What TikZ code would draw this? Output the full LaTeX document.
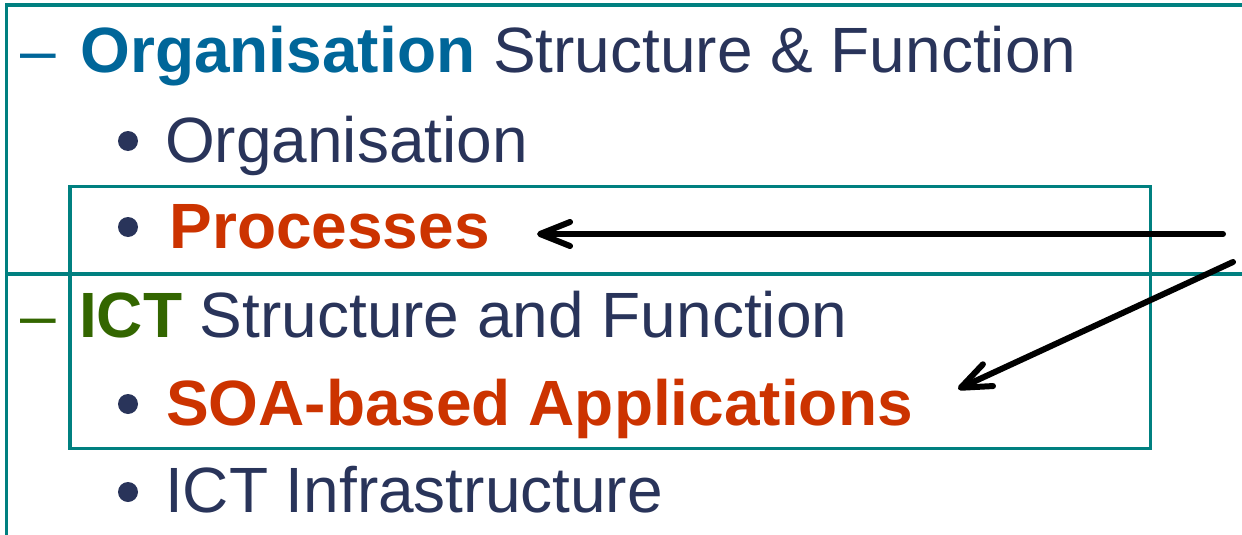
\documentclass[tikz,border=0pt]{standalone}
\usepackage{fontspec}
\setmainfont{Liberation Sans}
\usetikzlibrary{arrows.meta}
\definecolor{navy}{HTML}{29345A}
\definecolor{orgblue}{HTML}{006699}
\definecolor{hotred}{HTML}{CC3300}
\definecolor{ictgreen}{HTML}{336600}
\definecolor{tealline}{HTML}{008080}
\tikzset{
  txt/.style={anchor=base west, inner sep=0pt, outer sep=0pt, text=navy, font=\fontsize{64}{70}\selectfont},
  frame/.style={draw=tealline, line width=3.8pt},
  bulletdot/.style={circle, fill=navy, inner sep=0pt, minimum size=20pt},
  pointer/.style={draw=black, line width=6pt, line cap=round, -{Straight Barb[length=30pt,width=24pt,line width=6pt,round]}}
}
\begin{document}
\begin{tikzpicture}[x=1pt,y=-1pt]
\useasboundingbox (0,0) rectangle (1242,535);
% frame lines
\draw[frame] (1242,5) -- (6.5,5) -- (6.5,535);
\draw[frame] (5,274) -- (1242,274);
\draw[frame] (70,186.5) rectangle (1150.5,448.5);
% line 1
\node[txt, text=orgblue] (dash1) at (20,73) {–};
\node[txt] (line1) at (80.5,73) {\textbf{\color{orgblue}Organisation} Structure \& Function};
% line 2
\node[bulletdot] (b2) at (128,141) {};
\node[txt] (line2) at (165,162) {Organisation};
% line 3
\node[bulletdot] (b3) at (128,227) {};
\node[txt, text=hotred] (line3) at (169.5,248) {\textbf{Processes}};
% line 4
\node[txt, text=ictgreen] (dash4) at (20,337) {–};
\node[txt] (line4) at (79,337) {\textbf{\color{ictgreen}ICT} Structure and Function};
% line 5
\node[bulletdot] (b5) at (128,404) {};
\node[txt, text=hotred] (line5) at (166,425) {\textbf{SOA-based Applications}};
% line 6
\node[bulletdot] (b6) at (128,492) {};
\node[txt] (line6) at (165,512) {ICT Infrastructure};
% arrows
\coordinate (src1) at (1223,234);
\coordinate (tip1) at (537,234);
\coordinate (src2) at (1233,262);
\coordinate (tip2) at (958,389);
\draw[pointer] (src1) -- (tip1);
\draw[pointer] (src2) -- (tip2);
\end{tikzpicture}
\end{document}
